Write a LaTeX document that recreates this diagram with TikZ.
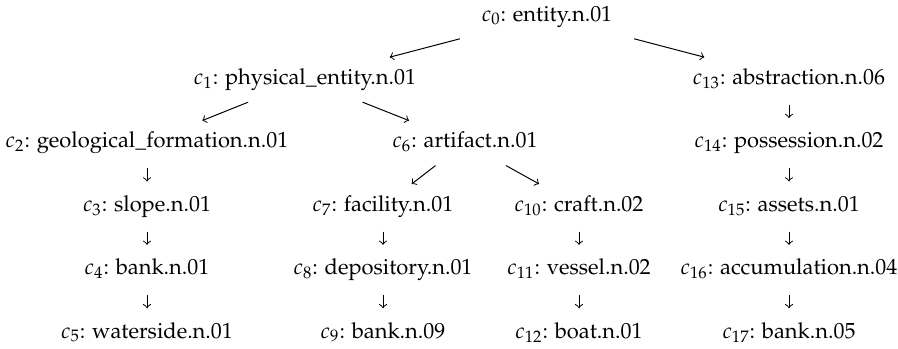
\documentclass[tikz,border=0pt]{standalone}
\usepackage[T1]{fontenc}
\usepackage{mathpazo}
\usetikzlibrary{calc}
\tikzset{
  lbl/.style={anchor=base, inner sep=0pt, font=\fontsize{10}{12}\selectfont},
  edge/.style={->, line width=0.45pt},
}
\newcommand{\dedge}[2]{\draw[edge] ($(#1.base)!0.36!(#2.base)+(0pt,2.3pt)$) -- ($(#1.base)!0.65!(#2.base)+(0pt,2.3pt)$);}
\newcommand{\vedge}[2]{\draw[edge] ($(#1.base)!0.40!(#2.base)+(0pt,2.3pt)$) -- ($(#1.base)!0.61!(#2.base)+(0pt,2.3pt)$);}
\begin{document}
\begin{tikzpicture}[x=0.4566pt, y=-0.4566pt]
\useasboundingbox (0,0) rectangle (898,349);
\node[lbl] (c0)  at (547,21)    {$c_{0}$: entity.n.01};
\node[lbl] (c1)  at (305,84.4)  {$c_{1}$: physical\_entity.n.01};
\node[lbl] (c13) at (789,84.4)  {$c_{13}$: abstraction.n.06};
\node[lbl] (c2)  at (147,147.8) {$c_{2}$: geological\_formation.n.01};
\node[lbl] (c6)  at (465,147.8) {$c_{6}$: artifact.n.01};
\node[lbl] (c14) at (789,147.8) {$c_{14}$: possession.n.02};
\node[lbl] (c3)  at (147,211.2) {$c_{3}$: slope.n.01};
\node[lbl] (c7)  at (383,211.2) {$c_{7}$: facility.n.01};
\node[lbl] (c10) at (579,211.2) {$c_{10}$: craft.n.02};
\node[lbl] (c15) at (789,211.2) {$c_{15}$: assets.n.01};
\node[lbl] (c4)  at (147,274.6) {$c_{4}$: bank.n.01};
\node[lbl] (c8)  at (383,274.6) {$c_{8}$: depository.n.01};
\node[lbl] (c11) at (579,274.6) {$c_{11}$: vessel.n.02};
\node[lbl] (c16) at (789,274.6) {$c_{16}$: accumulation.n.04};
\node[lbl] (c5)  at (147,338)   {$c_{5}$: waterside.n.01};
\node[lbl] (c9)  at (383,338)   {$c_{9}$: bank.n.09};
\node[lbl] (c12) at (579,338)   {$c_{12}$: boat.n.01};
\node[lbl] (c17) at (789,338)   {$c_{17}$: bank.n.05};
\dedge{c0}{c1}
\dedge{c0}{c13}
\dedge{c1}{c2}
\dedge{c1}{c6}
\dedge{c6}{c7}
\dedge{c6}{c10}
\vedge{c2}{c3}
\vedge{c3}{c4}
\vedge{c4}{c5}
\vedge{c7}{c8}
\vedge{c8}{c9}
\vedge{c10}{c11}
\vedge{c11}{c12}
\vedge{c13}{c14}
\vedge{c14}{c15}
\vedge{c15}{c16}
\vedge{c16}{c17}
\end{tikzpicture}
\end{document}
